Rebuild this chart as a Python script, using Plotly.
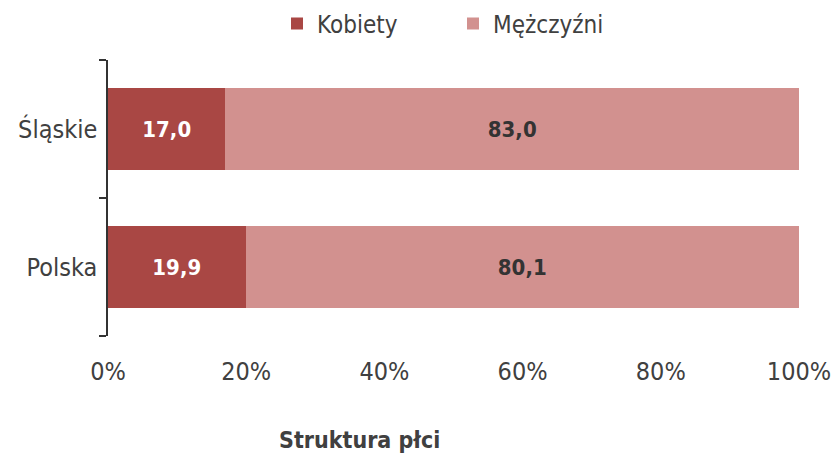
import plotly.graph_objects as go

categories = ["Polska", "Śląskie"]
kobiety = [19.9, 17.0]
mezczyzni = [80.1, 83.0]
tick_vals = [0, 20, 40, 60, 80, 100]
tick_text = ["0%", "20%", "40%", "60%", "80%", "100%"]

FONT = "DejaVu Sans Condensed, Liberation Sans Narrow, Liberation Sans, sans-serif"
DARK = "rgb(169,71,68)"
LIGHT = "rgb(210,145,143)"
TXT = "#404040"

def fmt(v):
    return f"{v:.1f}".replace(".", ",")

fig = go.Figure()
fig.add_trace(go.Bar(
    y=categories, x=kobiety, name="Kobiety", orientation="h",
    marker=dict(color=DARK, line=dict(width=0)),
    text=[fmt(v) for v in kobiety], textposition="inside", insidetextanchor="middle",
    textfont=dict(family=FONT, size=22, color="white", weight="bold"),
))
fig.add_trace(go.Bar(
    y=categories, x=mezczyzni, name="Mężczyźni", orientation="h",
    marker=dict(color=LIGHT, line=dict(width=0)),
    text=[fmt(v) for v in mezczyzni], textposition="inside", insidetextanchor="middle",
    textfont=dict(family=FONT, size=22, color="#333333", weight="bold"),
))

fig.update_layout(
    barmode="stack",
    bargap=0.41,
    width=831, height=455,
    margin=dict(l=108, r=32, t=60, b=119, autoexpand=False),
    paper_bgcolor="white", plot_bgcolor="white",
    font=dict(family=FONT, size=25, color=TXT),
    showlegend=True,
    legend=dict(orientation="h", x=(299 - 22 - 108) / 691, xanchor="left",
                y=(336 - 24) / 276, yanchor="middle",
                font=dict(family=FONT, size=24, color=TXT), traceorder="normal",
                itemwidth=30, entrywidth=131, bgcolor="rgba(0,0,0,0)"),
    xaxis=dict(range=[0, 100], tickvals=tick_vals, ticktext=tick_text,
               showgrid=False, zeroline=False, showline=False, ticks="",
               ticklabelstandoff=18, ticklabeloverflow="allow", automargin=False,
               tickfont=dict(family=FONT, size=25, color=TXT)),
    yaxis=dict(categoryorder="array", categoryarray=categories,
               showline=True, linecolor="#333333", linewidth=1.5,
               ticks="outside", tickson="boundaries", ticklen=7, tickcolor="#333333",
               tickwidth=1.5, showgrid=False, zeroline=False, automargin=False,
               tickfont=dict(family=FONT, size=25, color=TXT), ticklabelstandoff=4),
    uniformtext=dict(mode="show", minsize=10),
)
fig.add_annotation(text="<b>Struktura płci</b>", xref="paper", yref="paper",
                   x=(359 - 108) / 691, y=-(440 - 336) / 276, xanchor="center", yanchor="middle",
                   showarrow=False, font=dict(family=FONT, size=23, color=TXT))

fig.write_html("out.html", config={"displayModeBar": False},
               post_script="document.body.style.margin='0px';")
